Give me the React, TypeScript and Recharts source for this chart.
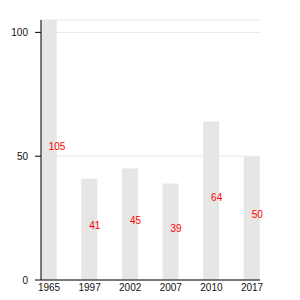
import { BarChart, Bar, XAxis, YAxis, CartesianGrid, LabelList } from "recharts";

const YEARS = ["1965", "1997", "2002", "2007", "2010", "2017"];
const VALUES = [105, 41, 45, 39, 64, 50];
const Y_TICKS = [0, 50, 100];

const data = YEARS.map((year, i) => ({ year, value: VALUES[i] }));

const FONT = "'Liberation Sans', Arial, Helvetica, sans-serif";

function ValueLabel(props: any) {
  const { x, y, width, height, value } = props;
  return (
    <text
      x={Number(x) + Number(width) / 2}
      y={Number(y) + Number(height) / 2}
      fill="red"
      fontSize={10}
      fontFamily={FONT}
      textAnchor="start"
    >
      {value}
    </text>
  );
}

export default function App() {
  return (
    <div style={{ position: "absolute", left: 0, top: 0, background: "#fff" }}>
      <BarChart
        width={300}
        height={300}
        data={data}
        margin={{ top: 20, right: 40, bottom: 0, left: 0 }}
      >
        <CartesianGrid horizontal vertical={false} stroke="#e8e8e8" strokeWidth={1} />
        <XAxis
          dataKey="year"
          height={20}
          padding={{ left: -12.3, right: -12.3 }}
          axisLine={{ stroke: "#000" }}
          tickLine={false}
          tickSize={0}
          tickMargin={4}
          tick={{ fontSize: 10, fill: "#111", fontFamily: FONT }}
          interval={0}
        />
        <YAxis
          width={41}
          domain={[0, 105]}
          ticks={Y_TICKS}
          allowDataOverflow
          axisLine={{ stroke: "#000" }}
          tickLine={{ stroke: "#000" }}
          tickSize={6}
          tickMargin={7}
          tick={{ fontSize: 10, fill: "#111", fontFamily: FONT }}
        />
        <Bar dataKey="value" fill="#e6e6e6" barSize={16} isAnimationActive={false}>
          <LabelList dataKey="value" content={<ValueLabel />} />
        </Bar>
      </BarChart>
    </div>
  );
}
